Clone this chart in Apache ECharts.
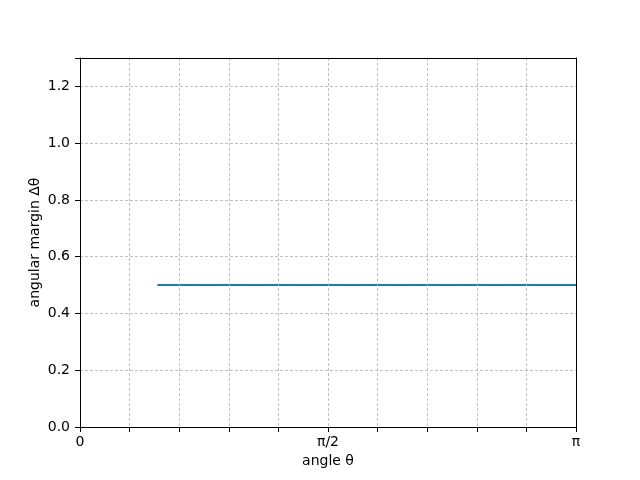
<!DOCTYPE html>
<html>
<head>
<meta charset="utf-8">
<script src="https://cdn.jsdelivr.net/npm/echarts@6/dist/echarts.min.js"></script>
<style>
  html, body { margin: 0; padding: 0; background: #fff; }
  #chart { width: 640px; height: 480px; }
</style>
</head>
<body>
<div id="chart"></div>
<script>
// angular margin vs angle
const thetaValues = [0.49, Math.PI];
const marginValues = [0.5, 0.5];
const xTickLabels = { 0: '0', 5: 'π/2', 10: 'π' };

const font = 'DejaVu Sans';
const step = Math.PI / 10;

const chart = echarts.init(document.getElementById('chart'));

const frameAxis = {
    z: 10,
    axisLine: { show: true, onZero: false, lineStyle: { color: '#000', width: 1 } },
    axisTick: { show: false },
    axisLabel: { show: false },
    splitLine: { show: false }
};

const gridLine = { show: true, lineStyle: { color: '#b0b0b0', type: [3, 2], width: 0.8 } };

chart.setOption({
    animation: false,
    grid: { left: 80, right: 64, top: 58, bottom: 53 },
    xAxis: [
        {
            type: 'value',
            min: 0,
            max: Math.PI,
            interval: step,
            z: 10,
            name: 'angle θ',
            nameLocation: 'middle',
            nameGap: 27,
            nameMoveOverlap: false,
            nameTextStyle: { color: '#000', fontFamily: font, fontSize: 14 },
            axisLine: { onZero: false, lineStyle: { color: '#000', width: 1 } },
            axisTick: { show: true, length: 5, lineStyle: { color: '#000' } },
            axisLabel: {
                color: '#000', fontFamily: font, fontSize: 14, margin: 8,
                showMaxLabel: true, showMinLabel: true,
                formatter: v => {
                    const i = Math.round(v / step);
                    return xTickLabels[i] !== undefined ? xTickLabels[i] : '';
                }
            },
            splitLine: gridLine
        },
        Object.assign({ type: 'value', position: 'top', min: 0, max: Math.PI }, frameAxis)
    ],
    yAxis: [
        {
            type: 'value',
            min: 0,
            max: 1.3,
            interval: 0.2,
            z: 10,
            name: 'angular margin Δθ',
            nameLocation: 'middle',
            nameGap: 38,
            nameMoveOverlap: false,
            nameTextStyle: { color: '#000', fontFamily: font, fontSize: 14 },
            axisLine: { show: true, onZero: false, lineStyle: { color: '#000', width: 1 } },
            axisTick: { show: true, length: 5, lineStyle: { color: '#000' } },
            axisLabel: {
                color: '#000', fontFamily: font, fontSize: 14, margin: 10,
                formatter: v => v > 1.25 ? '' : v.toFixed(1)
            },
            splitLine: gridLine
        },
        Object.assign({ type: 'value', position: 'right', min: 0, max: 1.3 }, frameAxis)
    ],
    series: [
        {
            type: 'line',
            data: thetaValues.map((t, i) => [t, marginValues[i]]),
            showSymbol: false,
            lineStyle: { color: '#1f77b4', width: 2 },
            z: 5
        }
    ]
});
</script>
</body>
</html>
